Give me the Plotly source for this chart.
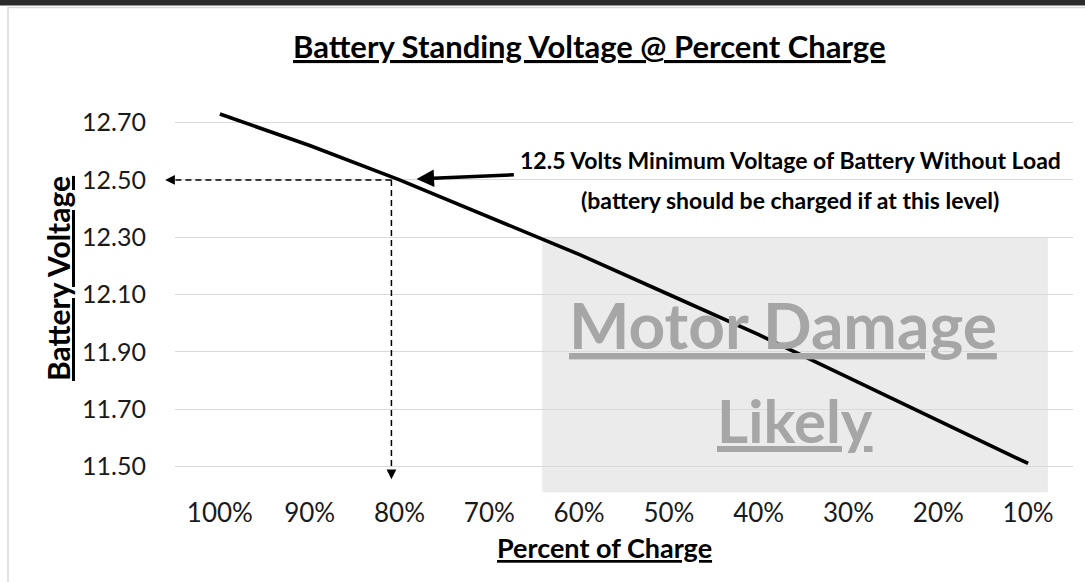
import plotly.graph_objects as go

# ---- data ----
categories = ["100%", "90%", "80%", "70%", "60%", "50%", "40%", "30%", "20%", "10%"]
voltage = [12.73, 12.62, 12.50, 12.37, 12.24, 12.10, 11.96, 11.81, 11.66, 11.51]
y_ticks = [11.50, 11.70, 11.90, 12.10, 12.30, 12.50, 12.70]
y_tick_labels = ["11.50", "11.70", "11.90", "12.10", "12.30", "12.50", "12.70"]
min_voltage = 12.50
min_voltage_cat = "80%"
damage_top = 12.30

W, H = 1085, 582
ML, MR, MT, MB = 175, 12, 94, 87
PW, PH = W - ML - MR, H - MT - MB

def px(x):
    return (x - ML) / PW

def py(y):
    return 1 - (y - MT) / PH

FONT = "Lato"
idx80 = categories.index(min_voltage_cat)
guide_x = idx80 - 0.09

fig = go.Figure()
fig.add_trace(go.Scatter(
    x=list(range(len(categories))), y=voltage, mode="lines",
    line=dict(color="#000000", width=3.6), hoverinfo="skip", showlegend=False,
))

shapes = [
    # shaded damage zone
    dict(type="rect", xref="x", yref="y", x0=3.59, x1=9.22, y0=11.41, y1=damage_top,
         fillcolor="#EBEBEB", line=dict(width=0), layer="below"),
    # dashed guide lines
    dict(type="line", xref="x", yref="y", x0=guide_x, x1=-0.5, y0=min_voltage, y1=min_voltage,
         line=dict(color="#000000", width=1.5, dash="6px,4px")),
    dict(type="line", xref="x", yref="y", x0=guide_x, x1=guide_x, y0=min_voltage, y1=11.47,
         line=dict(color="#000000", width=1.5, dash="6px,4px")),
    # frame
    dict(type="rect", xref="paper", yref="paper", x0=px(8), x1=px(1100), y0=py(7.5), y1=py(600),
         line=dict(color="#D9D9D9", width=1.5), fillcolor="rgba(0,0,0,0)"),
    dict(type="rect", xref="paper", yref="paper", x0=px(-5), x1=px(1100), y0=py(-5), y1=py(5.5),
         line=dict(width=0), fillcolor="#2B2B2B"),
]

annotations = [
    # arrowheads of dashed guides
    dict(x=-0.61, y=min_voltage, ax=-0.5, ay=min_voltage, xref="x", yref="y", axref="x", ayref="y",
         text="", showarrow=True, arrowhead=2, arrowsize=1.3, arrowwidth=1.5, arrowcolor="#000000"),
    dict(x=guide_x, y=11.455, ax=guide_x, ay=11.48, xref="x", yref="y", axref="x", ayref="y",
         text="", showarrow=True, arrowhead=2, arrowsize=1.3, arrowwidth=1.5, arrowcolor="#000000"),
    # solid pointer arrow
    dict(x=2.19, y=12.503, ax=3.29, ay=12.518, xref="x", yref="y", axref="x", ayref="y",
         text="", showarrow=True, arrowhead=2, arrowsize=1.0, arrowwidth=3.5, arrowcolor="#000000"),
    dict(x=6.35, y=12.571, xref="x", yref="y", showarrow=False, xanchor="center", yanchor="middle",
         text="<b>12.5 Volts Minimum Voltage of Battery Without Load</b>",
         font=dict(family=FONT, size=23, color="#000000")),
    dict(x=6.35, y=12.431, xref="x", yref="y", showarrow=False, xanchor="center", yanchor="middle",
         text="<b>(battery should be charged if at this level)</b>",
         font=dict(family=FONT, size=23, color="#000000")),
    # damage zone label
    dict(x=6.27, y=11.995, xref="x", yref="y", showarrow=False, xanchor="center", yanchor="middle",
         text="<b><u>Motor Damage</u></b>",
         font=dict(family=FONT, size=64, color="#A6A6A6")),
    dict(x=6.40, y=11.663, xref="x", yref="y", showarrow=False, xanchor="center", yanchor="middle",
         text="<b><u>Likely</u></b>",
         font=dict(family=FONT, size=60, color="#A6A6A6")),
    # titles
    dict(x=px(589), y=py(46), xref="paper", yref="paper", showarrow=False,
         xanchor="center", yanchor="middle",
         text="<b><u>Battery Standing Voltage @ Percent Charge</u></b>",
         font=dict(family=FONT, size=31, color="#000000")),
    dict(x=px(604), y=py(547), xref="paper", yref="paper", showarrow=False,
         xanchor="center", yanchor="middle",
         text="<b><u>Percent of Charge</u></b>",
         font=dict(family=FONT, size=27, color="#000000")),
    dict(x=px(58), y=py(279), xref="paper", yref="paper", showarrow=False, textangle=-90,
         xanchor="center", yanchor="middle",
         text="<b><u>Battery Voltage</u></b>",
         font=dict(family=FONT, size=30, color="#000000")),
]

fig.update_layout(
    width=W, height=H,
    margin=dict(l=ML, r=MR, t=MT, b=MB, autoexpand=False),
    paper_bgcolor="#FFFFFF", plot_bgcolor="#FFFFFF",
    shapes=shapes, annotations=annotations,
    showlegend=False,
    xaxis=dict(
        range=[-0.5, 9.5], tickmode="array",
        tickvals=list(range(len(categories))), ticktext=categories,
        showgrid=False, zeroline=False, showline=False, ticks="",
        tickfont=dict(family=FONT, size=26, color="#1A1A1A"),
    ),
    yaxis=dict(
        range=[11.40, 12.80], tickmode="array", tickvals=y_ticks, ticktext=y_tick_labels,
        showgrid=True, gridcolor="#D9D9D9", gridwidth=1, zeroline=False, showline=False,
        ticks="", ticklabelstandoff=28,
        tickfont=dict(family=FONT, size=25, color="#1A1A1A"),
    ),
)

fig.write_html("out.html", config={"displayModeBar": False},
               post_script="document.body.style.margin='0';")
